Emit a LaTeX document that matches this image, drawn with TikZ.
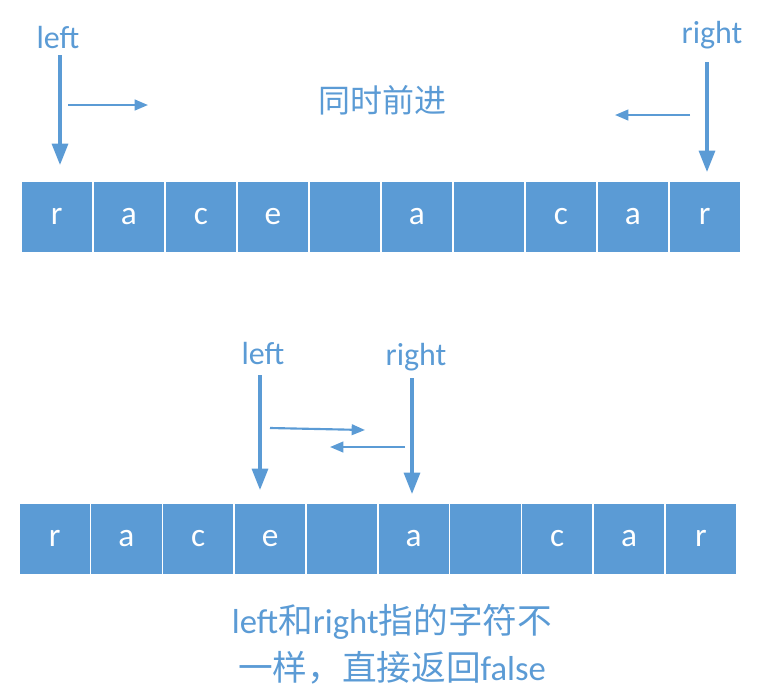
\documentclass[tikz,border=0pt]{standalone}
\usepackage{fontspec}
\setmainfont{Carlito}
\newfontfamily\cjk{Noto Sans CJK SC}
\usetikzlibrary{arrows.meta}
\definecolor{bl}{HTML}{5B9BD5}
\tikzset{
 cell/.style={draw=white,line width=1.2pt,fill=bl,minimum width=54pt,minimum height=54pt,inner sep=0pt,text=white,font=\fontsize{25}{28}\selectfont,anchor=north west},
 lbl/.style={text=bl,font=\fontsize{24}{28}\selectfont},
 arr/.style={draw=bl,line width=2.4pt,-{Triangle[length=16pt,width=12pt]}},
 harr/.style={draw=bl,line width=1.6pt,-{Triangle[length=10pt,width=8pt]}}
}
\begin{document}
\begin{tikzpicture}[x=0.75pt,y=-0.75pt]
\useasboundingbox (0,0) rectangle (758,693);
\foreach \c [count=\i from 0] in {r,a,c,e,{},a,{},c,a,r}{
 \node[cell] (t\i) at (20+72*\i,180) {\c};
 \node[cell,minimum width=53.8pt] (b\i) at (18+71.8*\i,502) {\c};
}
\node[lbl] (l1) at (58,38) {left};
\node[lbl] (r1) at (712,35) {right};
\node[lbl,font=\cjk\fontsize{24}{28}\selectfont] (m) at (382,100) {同时前进};
\coordinate (a1) at (60,55); \coordinate (a2) at (60,165);
\draw[arr] (a1) -- (a2);
\coordinate (h1) at (68,105); \coordinate (h2) at (148,105);
\draw[harr] (h1) -- (h2);
\coordinate (a3) at (707,62); \coordinate (a4) at (707,172);
\draw[arr] (a3) -- (a4);
\coordinate (h3) at (690,115); \coordinate (h4) at (615,115);
\draw[harr] (h3) -- (h4);
\node[lbl] (l2) at (263,354) {left};
\node[lbl] (r2) at (416,357) {right};
\coordinate (a5) at (260,375); \coordinate (a6) at (260,490);
\draw[arr] (a5) -- (a6);
\coordinate (a7) at (412,378); \coordinate (a8) at (412,494);
\draw[arr] (a7) -- (a8);
\coordinate (h5) at (270,428); \coordinate (h6) at (365,430);
\draw[harr] (h5) -- (h6);
\coordinate (h7) at (405,447); \coordinate (h8) at (330,447);
\draw[harr] (h7) -- (h8);
\node[lbl,font=\fontsize{26}{30}\selectfont] (t1) at (392,622) {left{\cjk 和}right{\cjk 指的字符不}};
\node[lbl,font=\fontsize{26}{30}\selectfont] (t2) at (392,668) {{\cjk 一样，直接返回}false};
\end{tikzpicture}
\end{document}
